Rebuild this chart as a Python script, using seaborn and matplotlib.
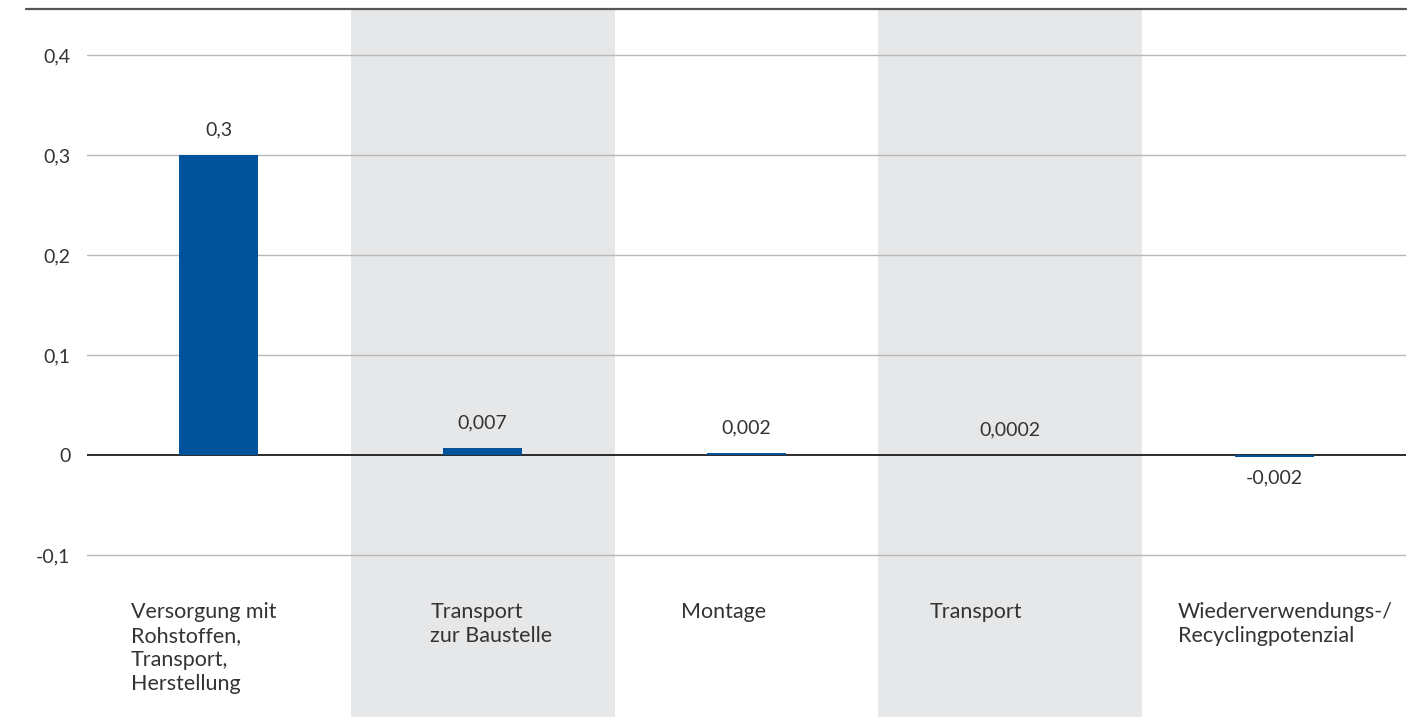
import pandas as pd
import seaborn as sns
import matplotlib.pyplot as plt

# Werte aus der Grafik
kategorien = [
    "Versorgung mit\nRohstoffen,\nTransport,\nHerstellung",
    "Transport\nzur Baustelle",
    "Montage",
    "Transport",
    "Wiederverwendungs-/\nRecyclingpotenzial",
]
werte = [0.3, 0.007, 0.002, 0.0002, -0.002]
wert_labels = ["0,3", "0,007", "0,002", "0,0002", "-0,002"]
y_ticks = [-0.1, 0, 0.1, 0.2, 0.3, 0.4]
y_tick_labels = ["-0,1", "0", "0,1", "0,2", "0,3", "0,4"]

df = pd.DataFrame({"Kategorie": kategorien, "Wert": werte})

sns.set_style("white")
plt.rcParams["font.family"] = ["Lato", "DejaVu Sans"]

textfarbe = "#333333"
blau = "#00529B"

fig = plt.figure(figsize=(14.18, 7.17), dpi=100)
ax = fig.add_axes([87 / 1418, 0, (1406 - 87) / 1418, (717 - 9) / 717])

# graue Hintergrundstreifen
for i in [1, 3]:
    ax.axvspan(i - 0.5, i + 0.5, color="#E6E7E9", zorder=0, lw=0)

sns.barplot(data=df, x="Kategorie", y="Wert", color=blau, width=0.3,
            saturation=1, ax=ax, zorder=3, linewidth=0)

ax.set_xlim(-0.5, 4.5)
ax.set_ylim(-0.262, 0.446)
ax.set_yticks(y_ticks)
ax.set_yticklabels(y_tick_labels, fontsize=14, color=textfarbe)
ax.tick_params(axis="y", length=0, pad=12)
ax.set_xticks([])
ax.set_xlabel("")
ax.set_ylabel("")

for y in y_ticks:
    if y == 0:
        ax.axhline(0, color="#1a1a1a", lw=1.3, zorder=2)
    else:
        ax.axhline(y, color="#B8B8B8", lw=1, zorder=1)

for s in ["left", "right", "bottom", "top"]:
    ax.spines[s].set_visible(False)

# obere Linie
ax.plot([(26 - 87) / 1319, 1], [1, 1], transform=ax.transAxes, color="#555555",
        lw=1.6, clip_on=False, zorder=5)

# Wertbeschriftungen
for i, (w, lab) in enumerate(zip(werte, wert_labels)):
    if w >= 0:
        ax.annotate(lab, (i, w), xytext=(0, 12), textcoords="offset points",
                    ha="center", va="bottom", fontsize=14, color=textfarbe)
    else:
        ax.annotate(lab, (i, w), xytext=(0, -9), textcoords="offset points",
                    ha="center", va="top", fontsize=14, color=textfarbe)

# Kategoriebeschriftungen
versatz = [-0.333, -0.199, -0.25, -0.306, -0.365]
for i, (kat, dx) in enumerate(zip(kategorien, versatz)):
    ax.text(i + dx, -0.147, kat, ha="left", va="top", fontsize=15.5,
            color=textfarbe, linespacing=1.25)

fig.savefig("out.png", dpi=100)
